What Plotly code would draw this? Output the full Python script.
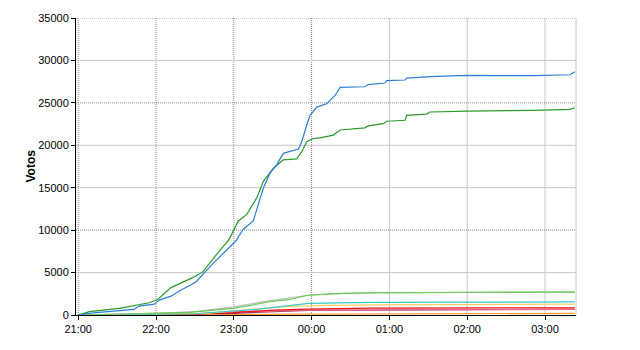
import pandas as pd
import plotly.graph_objects as go

BASE = pd.Timestamp("2011-05-22 21:00")

# minutes after 21:00 and cumulative votes for each series
blue_t = [0, 5, 13.7, 43, 47, 58.7, 62.5, 71.6, 78, 90.8, 103.7, 111.4, 121.7, 127.3, 135, 142.8, 148, 153,
          158.2, 169.8, 172.4, 176.2, 178.8, 184, 191.6, 198, 202, 221, 223.7, 236.6, 238, 252, 253.3, 271.3,
          286.7, 299.6, 351, 379.3, 383]
blue_v = [0, 150, 270, 660, 1050, 1280, 1750, 2220, 2840, 3890, 6030, 7200, 8750, 10110, 11080, 14970, 16720, 17700,
          19050, 19560, 20420, 22360, 23530, 24500, 24890, 25870, 26830, 26900, 27150, 27340, 27610, 27690, 27920, 28080,
          28200, 28230, 28200, 28310, 28660]

green_t = [0, 8.6, 31.7, 44.6, 54.8, 61.3, 71.6, 88.3, 96, 106, 116.5, 123.5, 130, 137.7, 142.8, 150.5, 158.2,
           168.5, 172.4, 176.2, 178.8, 181.3, 186.5, 196.7, 202, 221, 223.7, 235.3, 238, 252, 253.3, 268.8, 271.3,
           299.6, 351, 379.3, 383]
green_v = [0, 390, 780, 1170, 1440, 1830, 3230, 4400, 5050, 7000, 8950, 11080, 11860, 13800, 15750, 17300, 18280,
           18400, 19250, 20420, 20600, 20800, 20880, 21200, 21800, 22050, 22280, 22550, 22830, 22950, 23530, 23680, 23920,
           24030, 24120, 24230, 24420]

lgreen_t = [0, 30, 60, 86, 119.6, 148, 163, 177.5, 199, 225, 300, 383]
lgreen_v = [0, 100, 200, 310, 780, 1560, 1830, 2330, 2530, 2600, 2680, 2700]

gray_t = [0, 60, 90, 119.6, 148, 163, 177.5, 199, 225, 383]
gray_v = [0, 200, 400, 950, 1700, 1980, 2330, 2530, 2620, 2700]

cyan_t = [0, 90, 137.7, 163, 177.5, 225, 383]
cyan_v = [0, 150, 660, 1050, 1360, 1480, 1550]

yellow_t = [0, 100, 150.5, 180, 225, 383]
yellow_v = [0, 200, 900, 1100, 1200, 1280]

red_t = [0, 86, 119.6, 150.5, 177.5, 225, 383]
red_v = [0, 100, 270, 580, 700, 820, 850]

pink_t = [0, 90, 119.6, 177.5, 383]
pink_v = [0, 150, 390, 560, 660]

purple_t = [0, 120, 177.5, 383]
purple_v = [0, 200, 550, 680]

orange_t = [0, 163, 383]
orange_v = [0, 120, 200]

series = [
    (orange_t, orange_v, "#ff9933"),
    (purple_t, purple_v, "#993366"),
    (pink_t, pink_v, "#ee6688"),
    (red_t, red_v, "#ee1111"),
    (yellow_t, yellow_v, "#ffcc66"),
    (cyan_t, cyan_v, "#33cccc"),
    (gray_t, gray_v, "#bbbbbb"),
    (lgreen_t, lgreen_v, "#66cc55"),
    (green_t, green_v, "#2a9a2a"),
    (blue_t, blue_v, "#2a7fd4"),
]

hour_ticks = ["2011-05-22 21:00", "2011-05-22 22:00", "2011-05-22 23:00", "2011-05-23 00:00",
              "2011-05-23 01:00", "2011-05-23 02:00", "2011-05-23 03:00"]
dotted_hours = hour_ticks[:4]
solid_hours = hour_ticks[4:]
y_ticks = [0, 5000, 10000, 15000, 20000, 25000, 30000, 35000]
dotted_y = [10000, 25000, 35000]
solid_y = [5000, 15000, 20000, 30000]

x_start = BASE + pd.Timedelta(minutes=-1.7)
x_end = BASE + pd.Timedelta(minutes=383.9)


def to_time(mins):
    return [BASE + pd.Timedelta(minutes=m) for m in mins]


fig = go.Figure()
for t, v, c in series:
    fig.add_trace(go.Scatter(x=to_time(t), y=v, mode="lines", line=dict(color=c, width=1.2),
                             showlegend=False, hoverinfo="skip"))

shapes = []
for h in dotted_hours:
    shapes.append(dict(type="line", xref="x", yref="paper", x0=h, x1=h, y0=0, y1=1, layer="below",
                       line=dict(color="#888888", width=1, dash="1px,1px")))
for h in solid_hours:
    shapes.append(dict(type="line", xref="x", yref="paper", x0=h, x1=h, y0=0, y1=1, layer="below",
                       line=dict(color="#c8c8c8", width=1)))
for yv in dotted_y:
    shapes.append(dict(type="line", xref="paper", yref="y", x0=0, x1=1, y0=yv, y1=yv, layer="below",
                       line=dict(color="#888888", width=1, dash="1px,1px")))
for yv in solid_y:
    shapes.append(dict(type="line", xref="paper", yref="y", x0=0, x1=1, y0=yv, y1=yv, layer="below",
                       line=dict(color="#c8c8c8", width=1)))
shapes.append(dict(type="line", xref="paper", yref="paper", x0=1, x1=1, y0=0, y1=1, layer="below",
                   line=dict(color="#c8c8c8", width=1)))

fig.update_layout(
    width=640, height=350,
    margin=dict(l=76, r=64, t=15, b=35),
    paper_bgcolor="white", plot_bgcolor="white",
    font=dict(family="Liberation Sans, Arial, sans-serif", size=11, color="black"),
    shapes=shapes,
    xaxis=dict(type="date", range=[x_start, x_end], tickvals=hour_ticks, tickformat="%H:%M",
               showgrid=False, zeroline=False, showline=True, linecolor="black", linewidth=1,
               ticks="outside", ticklen=4, tickcolor="black", tickfont=dict(size=11)),
    yaxis=dict(range=[0, 35000], tickvals=y_ticks, tickformat="d", showgrid=False, zeroline=False,
               showline=True, linecolor="black", linewidth=1,
               ticks="outside", ticklen=4, tickcolor="black", tickfont=dict(size=11)),
    annotations=[dict(text="<b>Votos</b>", xref="paper", yref="paper", x=0, y=0.5, xshift=-46,
                      textangle=-90, showarrow=False, font=dict(size=12, color="black"),
                      xanchor="center", yanchor="middle")],
)

fig.write_html("out.html")
